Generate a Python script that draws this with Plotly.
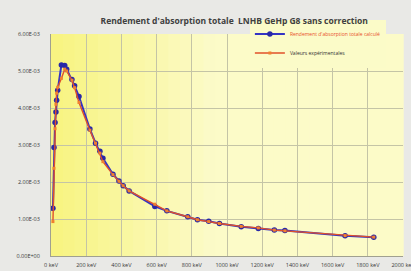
import plotly.graph_objects as go

energies_keV = [11, 17, 23, 28, 32, 38, 59, 78, 89, 119, 134, 159, 221, 253, 278, 295,
                352, 386, 410, 444, 590, 658, 777, 832, 896, 957, 1081, 1178, 1269, 1329,
                1671, 1834]
calc_eff = [1.29e-3, 2.93e-3, 3.61e-3, 3.89e-3, 4.21e-3, 4.48e-3, 5.16e-3, 5.15e-3,
            5.05e-3, 4.77e-3, 4.60e-3, 4.31e-3, 3.43e-3, 3.05e-3, 2.83e-3, 2.64e-3,
            2.21e-3, 2.03e-3, 1.90e-3, 1.76e-3, 1.34e-3, 1.22e-3, 1.06e-3, 0.98e-3,
            0.94e-3, 0.88e-3, 0.79e-3, 0.74e-3, 0.70e-3, 0.69e-3, 0.55e-3, 0.51e-3]
exp_eff = [0.93e-3, 2.37e-3, 3.44e-3, 4.10e-3, 4.40e-3, 4.56e-3, 4.80e-3, 5.05e-3,
           5.00e-3, 4.75e-3, 4.55e-3, 4.15e-3, 3.40e-3, 3.05e-3, 2.78e-3, 2.55e-3,
           2.20e-3, 2.02e-3, 1.90e-3, 1.76e-3, 1.40e-3, 1.22e-3, 1.06e-3, 0.98e-3,
           0.93e-3, 0.88e-3, 0.80e-3, 0.76e-3, 0.70e-3, 0.68e-3, 0.55e-3, 0.51e-3]

y_tickvals = [0, 1e-3, 2e-3, 3e-3, 4e-3, 5e-3, 6e-3]
y_ticktext = ["0.00E+00", "1.00E-03", "2.00E-03", "3.00E-03", "4.00E-03", "5.00E-03", "6.00E-03"]
x_tickvals = [0, 200, 400, 600, 800, 1000, 1200, 1400, 1600, 1800, 2000]
x_ticktext = [f"{v} keV" for v in x_tickvals]

fig = go.Figure()
fig.add_trace(go.Scatter(
    x=energies_keV, y=calc_eff, mode="lines+markers",
    name="<span style='color:#e8502a'>Rendement d'absorption totale calculé</span>",
    line=dict(color="#3434c4", width=2),
    marker=dict(color="#2828a8", size=5.5, symbol="circle"),
))
fig.add_trace(go.Scatter(
    x=energies_keV, y=exp_eff, mode="lines+markers",
    name="Valeurs expérimentales",
    line=dict(color="#e0502a", width=1.4),
    marker=dict(color="#f08030", size=3, symbol="square"),
))

# yellow gradient background (paper-referenced, drawn beneath the grid)
shapes = []
n = 30
c0 = (248, 244, 130)
c1 = (252, 251, 200)
for i in range(n):
    t = min(1.0, (i / (n - 1)) * 2.2)
    c = tuple(int(c0[k] + (c1[k] - c0[k]) * t) for k in range(3))
    shapes.append(dict(type="rect", xref="paper", yref="paper",
                       x0=i / n, x1=(i + 1) / n + 0.002, y0=0, y1=1,
                       fillcolor="rgb(%d,%d,%d)" % c, line=dict(width=0), layer="below"))

fig.update_layout(
    width=411, height=271,
    margin=dict(l=51, r=8, t=34, b=15),
    paper_bgcolor="#e9e9e6",
    plot_bgcolor="rgba(0,0,0,0)",
    shapes=shapes,
    font=dict(family="Open Sans, DejaVu Sans, sans-serif", size=5, color="#383838"),
    title=dict(text="<b>Rendement d'absorption totale  LNHB GeHp G8 sans correction</b>",
               x=0.57, xanchor="center", y=0.923, yanchor="middle",
               font=dict(size=8.5, color="#404040")),
    showlegend=True,
    legend=dict(x=0.565, y=1.065, xanchor="left", yanchor="top",
                bgcolor="#fbfbc8", borderwidth=0,
                font=dict(size=5, color="#303030"),
                itemwidth=30, tracegroupgap=0),
    xaxis=dict(range=[0, 2000], tickvals=x_tickvals, ticktext=x_ticktext,
               showgrid=True, gridcolor="#c4c4a6", gridwidth=1,
               zeroline=False, showline=True, linecolor="#a0a090",
               ticks="", tickfont=dict(size=5.5), ticklabelstandoff=3,
               ticklabeloverflow="allow", automargin=False),
    yaxis=dict(range=[0, 6e-3], tickvals=y_tickvals, ticktext=y_ticktext,
               showgrid=True, gridcolor="#c4c4a6", gridwidth=1,
               zeroline=False, showline=True, linecolor="#a0a090",
               ticks="", tickfont=dict(size=5.5), ticklabelstandoff=9,
               automargin=False),
)

fig.write_html("out.html",
               config={"displayModeBar": False},
               post_script="document.body.style.margin='0';document.body.style.background='#e9e9e6';")
